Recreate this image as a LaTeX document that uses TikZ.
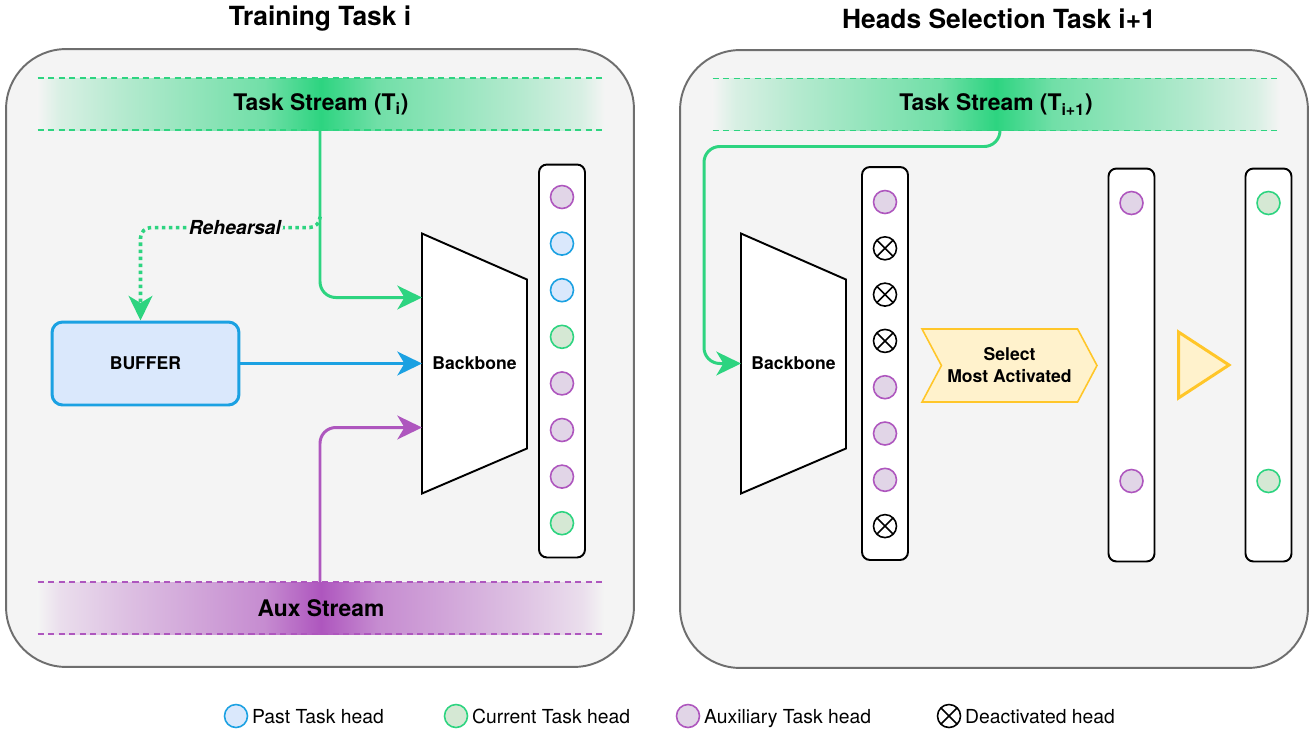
\documentclass[tikz,border=0pt]{standalone}
\usepackage{fontspec}
\setmainfont{TeX Gyre Heros}
\usetikzlibrary{positioning,calc,arrows.meta,shapes.symbols}

\definecolor{panelbg}{HTML}{F4F4F4}
\definecolor{panelline}{HTML}{6E6E6E}
\definecolor{sgreen}{HTML}{2DD480}
\definecolor{spurple}{HTML}{AE56BE}
\definecolor{sblue}{HTML}{1BA1E2}
\definecolor{bluefill}{HTML}{DAE8FC}
\definecolor{greenfill}{HTML}{D5E8D4}
\definecolor{purplefill}{HTML}{E1D5E7}
\definecolor{yelfill}{HTML}{FFF2CC}
\definecolor{yelline}{HTML}{FFC629}

\pgfdeclarehorizontalshading{greenband}{100bp}{color(0bp)=(panelbg); color(25bp)=(panelbg);
  color(27bp)=(sgreen!14!panelbg); color(32.5bp)=(sgreen!32!panelbg); color(45bp)=(sgreen!66!panelbg);
  color(50bp)=(sgreen); color(55bp)=(sgreen!66!panelbg); color(67.5bp)=(sgreen!32!panelbg);
  color(73bp)=(sgreen!14!panelbg); color(75bp)=(panelbg); color(100bp)=(panelbg)}
\pgfdeclarehorizontalshading{purpleband}{100bp}{color(0bp)=(panelbg); color(25bp)=(panelbg);
  color(27bp)=(spurple!14!panelbg); color(32.5bp)=(spurple!32!panelbg); color(45bp)=(spurple!66!panelbg);
  color(50bp)=(spurple); color(55bp)=(spurple!66!panelbg); color(67.5bp)=(spurple!32!panelbg);
  color(73bp)=(spurple!14!panelbg); color(75bp)=(panelbg); color(100bp)=(panelbg)}

\tikzset{
  >={Stealth[length=14pt,width=13.5pt,inset=4pt]},
  title/.style={font=\fontsize{15}{18}\selectfont\bfseries},
  panel/.style={draw=panelline, fill=panelbg, line width=1.1pt, rounded corners=1.2cm,
    minimum width=12.56cm, minimum height=12.36cm},
  band/.style={minimum width=11.34cm, minimum height=1.04cm, inner sep=0, outer sep=0,
    font=\fontsize{13}{15}\selectfont\bfseries},
  gband/.style={band, shade, shading=greenband},
  pband/.style={band, shade, shading=purpleband},
  gdash/.style={draw=sgreen, line width=0.85pt, dash pattern=on 3.5pt off 2.5pt},
  pdash/.style={draw=spurple, line width=0.85pt, dash pattern=on 3.5pt off 2.5pt},
  tsarrow/.style={draw=sgreen, line width=1.7pt, rounded corners=9pt, ->, color=sgreen},
  auxarrow/.style={draw=spurple, line width=1.7pt, rounded corners=9pt, ->, color=spurple},
  bufarrow/.style={draw=sblue, line width=1.7pt, ->, color=sblue},
  rharrow/.style={draw=sgreen, line width=2pt, rounded corners=6pt, ->, color=sgreen,
    dash pattern=on 2pt off 2pt},
  rhlabel/.style={fill=panelbg, inner sep=1pt, font=\fontsize{11}{13}\selectfont\bfseries\itshape, text=black},
  buffer/.style={draw=sblue, fill=bluefill, line width=1.7pt, rounded corners=6pt,
    minimum width=3.74cm, minimum height=1.66cm, font=\fontsize{10}{12}\selectfont\bfseries},
  bbox/.style={minimum width=2.1cm, minimum height=5.2cm, inner sep=0, outer sep=0},
  bbshape/.style={draw=black, fill=white, line width=1.1pt},
  bblabel/.style={font=\fontsize{10}{12}\selectfont\bfseries},
  column/.style={draw=black, fill=white, line width=1.1pt, rounded corners=4.5pt,
    minimum width=0.92cm, minimum height=7.86cm},
  head/.style={circle, minimum size=0.46cm, inner sep=0, line width=0.9pt},
  pasth/.style={head, draw=sblue, fill=bluefill},
  curh/.style={head, draw=sgreen, fill=greenfill},
  auxh/.style={head, draw=spurple, fill=purplefill},
  offh/.style={head, draw=black, fill=white, path picture={
    \draw[line width=0.9pt] (path picture bounding box.north west) -- (path picture bounding box.south east)
      (path picture bounding box.north east) -- (path picture bounding box.south west);}},
  selbox/.style={signal, signal to=east, signal from=west, signal pointer angle=124,
    draw=yelline, fill=yelfill, line width=0.9pt, minimum width=3.5cm, minimum height=1.46cm,
    inner sep=0, align=center, font=\fontsize{10}{12.5}\selectfont\bfseries},
  tri/.style={draw=yelline, fill=yelfill, line width=1.7pt, line join=miter},
  legtext/.style={inner sep=0, text height=9.5pt, text depth=1.5pt, font=\fontsize{11}{13}\selectfont}
}

\begin{document}
\begin{tikzpicture}[x=0.02cm,y=-0.02cm]
\useasboundingbox[fill=white] (0,0) rectangle (1316,731);

\node[title] (t1) at (320,19) {Training Task i};
\node[title] (t2) at (999,19) {Heads Selection Task i+1};

\node[panel] (p1) at (320,358) {};
\node[panel] (p2) at (994,359) {};

\node[gband] (ts1) at (321,104) {Task Stream (T\textsubscript{i})};
\draw[gdash] (ts1.north west) -- (ts1.north east);
\draw[gdash] (ts1.south west) -- (ts1.south east);
\node[pband] (aux1) at (321,608) {Aux Stream};
\draw[pdash] (aux1.north west) -- (aux1.north east);
\draw[pdash] (aux1.south west) -- (aux1.south east);
\node[gband] (ts2) at (996,104.5) {Task Stream (T\textsubscript{i+1})};
\draw[gdash] (ts2.north west) -- (ts2.north east);
\draw[gdash] (ts2.south west) -- (ts2.south east);

\node[buffer] (buf) at (145.5,363.5) {BUFFER};

\node[bbox] (bb1) at (474.5,363.5) {};
\draw[bbshape] (bb1.north west) -- ($(bb1.north east)+(0,46)$) -- ($(bb1.south east)+(0,-45)$)
  -- (bb1.south west) -- cycle;
\node[bblabel] (bb1t) at (bb1) {Backbone};

\node[column] (c1) at (562,361) {};
\foreach \c [count=\k from 0] in {auxh,pasth,pasth,curh,auxh,auxh,auxh,curh}
  \node[\c] (l\k) at (562,{197+46.6*\k}) {};

\coordinate (rh) at ($(ts1.south)+(-1,88)$);
\draw[tsarrow] (ts1.south -| rh) |- ($(bb1.west)+(0,-66)$);
\draw[rharrow] (rh) |- ($(buf.north)+(-5,-93)$) node[rhlabel, pos=0.737] (rhl) {Rehearsal}
  -- ($(buf.north)+(-5,0)$);
\draw[bufarrow] (buf.east) -- (bb1.west);
\draw[auxarrow] (aux1.north -| rh) |- ($(bb1.west)+(0,64)$);

\node[bbox] (bb2) at (793.5,363.5) {};
\draw[bbshape] (bb2.north west) -- ($(bb2.north east)+(0,46)$) -- ($(bb2.south east)+(0,-45)$)
  -- (bb2.south west) -- cycle;
\node[bblabel] (bb2t) at (bb2) {Backbone};
\draw[tsarrow] ($(ts2.south)+(4,0)$) |- ($(bb2.west)+(-37,-217)$) |- (bb2.west);

\node[column] (c2) at (885,363.5) {};
\foreach \c [count=\k from 0] in {auxh,offh,offh,offh,auxh,auxh,auxh,offh}
  \node[\c] (r\k) at (885,{202+46.3*\k}) {};

\node[selbox] (sel) at (1009.5,365.5) {Select\\Most Activated};

\node[column] (c3) at (1131.5,365) {};
\node[auxh] (s0) at (1131.5,203) {};
\node[auxh] (s1) at (1131.5,481) {};

\draw[tri] (1178.5,332) -- (1229,365) -- (1178.5,398) -- cycle;

\node[column] (c4) at (1268.5,365) {};
\node[curh] (n0) at (1268.5,203) {};
\node[curh] (n1) at (1268.5,481) {};

\node[pasth] (lg1) at (236,716) {};
\node[legtext, right=2pt of lg1] (lg1t) {Past Task head};
\node[curh] (lg2) at (456,716) {};
\node[legtext, right=2pt of lg2] (lg2t) {Current Task head};
\node[auxh] (lg3) at (688,716) {};
\node[legtext, right=2pt of lg3] (lg3t) {Auxiliary Task head};
\node[offh] (lg4) at (949,716) {};
\node[legtext, right=2pt of lg4] (lg4t) {Deactivated head};
\end{tikzpicture}
\end{document}
